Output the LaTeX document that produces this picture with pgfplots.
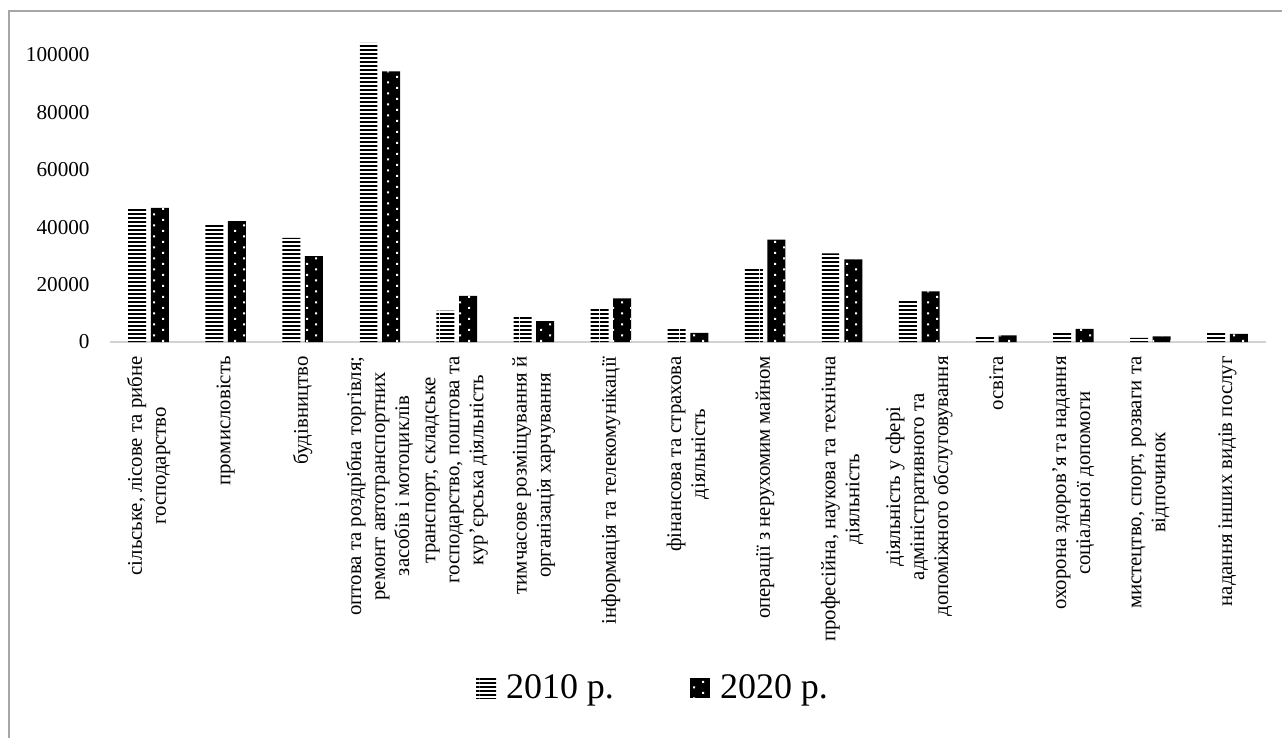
\documentclass[border=0pt]{standalone}
\usepackage{fontspec}
\setmainfont{Liberation Serif}
\usepackage{pgfplots}
\pgfplotsset{compat=1.18}
\usetikzlibrary{patterns}

% dense horizontal lines (2010)
\pgfdeclarepatternformonly{hlines}{\pgfqpoint{0pt}{0pt}}{\pgfqpoint{20pt}{1.75pt}}{\pgfqpoint{20pt}{1.75pt}}{%
  \pgfpathrectangle{\pgfqpoint{0pt}{0pt}}{\pgfqpoint{20pt}{1.1pt}}\pgfusepath{fill}}
% staggered small dots (2020), drawn white on black
\pgfdeclarepatternformonly{wdots}{\pgfqpoint{-1pt}{-1pt}}{\pgfqpoint{9pt}{5.5pt}}{\pgfqpoint{9pt}{5.5pt}}{%
  \pgfpathrectangle{\pgfqpoint{0pt}{0pt}}{\pgfqpoint{1pt}{1pt}}%
  \pgfpathrectangle{\pgfqpoint{4.5pt}{2.75pt}}{\pgfqpoint{1pt}{1pt}}\pgfusepath{fill}}

\begin{document}
\begin{tikzpicture}
\useasboundingbox (-55pt,-198pt) rectangle (586pt,171pt);
\draw[gray!70, line width=1pt] (590pt,165.5pt) -- (-50.5pt,165.5pt) -- (-50.5pt,-200pt);
\begin{axis}[
    at={(0pt,0pt)}, anchor=south west,
    scale only axis,
    width=578pt, height=157.9pt,
    ybar=2.3pt, bar width=9pt,
    xmin=-0.5, xmax=14.5,
    ymin=0, ymax=110000,
    ytick={0,20000,40000,60000,80000,100000},
    yticklabels={0,20000,40000,60000,80000,100000},
    scaled y ticks=false,
    axis lines*=left,
    y axis line style={draw=none},
    x axis line style={draw=gray!35, line width=1pt},
    major tick length=0pt,
    yticklabel style={font=\fontsize{10.6}{12}\selectfont, inner sep=0pt, xshift=-10pt},
    xtick={0,...,14},
    xticklabels={
      {сільське, лісове та рибне\\господарство},
      {промисловість},
      {будівництво},
      {оптова та роздрібна торгівля;\\ремонт автотранспортних\\засобів і мотоциклів},
      {транспорт, складське\\господарство, поштова та\\кур’єрська діяльність},
      {тимчасове розміщування й\\організація харчування},
      {інформація та телекомунікації},
      {фінансова та страхова\\діяльність},
      {операції з нерухомим майном},
      {професійна, наукова та технічна\\діяльність},
      {діяльність у сфері\\адміністративного та\\допоміжного обслуговування},
      {освіта},
      {охорона здоров’я та надання\\соціальної допомоги},
      {мистецтво, спорт, розваги та\\відпочинок},
      {надання інших видів послуг}},
    xticklabel style={rotate=90, anchor=east, align=center, inner sep=0pt,
      font=\fontsize{10.4}{12}\selectfont},
    xticklabel shift=7pt,
    legend style={at={(0.4706,-1.0957)}, anchor=center, draw=none,
      font=\fontsize{18}{20}\selectfont, legend columns=2,
      /tikz/every odd column/.append style={column sep=3pt},
      /tikz/every even column/.append style={column sep=36pt}},
    legend image code/.code={\path[#1] (0pt,-5pt) rectangle (10pt,5pt);},
]
\addplot[draw=none, pattern=hlines, pattern color=black] coordinates {
 (0,46500) (1,40700) (2,36300) (3,104200) (4,10900) (5,9000) (6,12100) (7,5100)
 (8,26000) (9,30900) (10,14500) (11,1850) (12,3800) (13,1400) (14,3700)};
\addplot[draw=none, fill=black, postaction={pattern=wdots, pattern color=white}] coordinates {
 (0,46700) (1,42100) (2,29900) (3,94300) (4,16100) (5,7300) (6,15200) (7,3200)
 (8,35700) (9,28800) (10,17600) (11,2300) (12,4600) (13,2000) (14,2800)};
\legend{2010 р., 2020 р.}
\end{axis}
\end{tikzpicture}
\end{document}
